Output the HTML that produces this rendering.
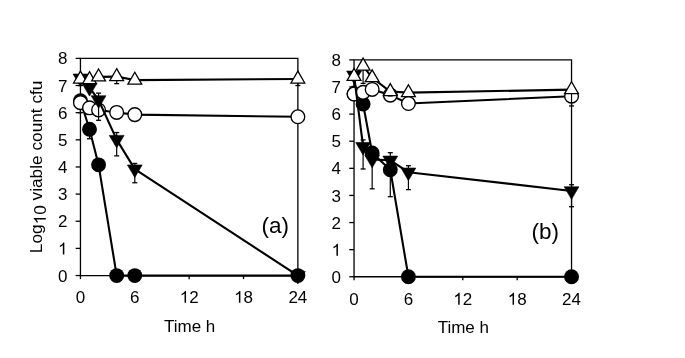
<!DOCTYPE html>
<html><head><meta charset="utf-8"><style>
html,body{margin:0;padding:0;background:#fff;}
svg{display:block;will-change:transform;}
text{font-family:"Liberation Sans", sans-serif;font-size:17px;fill:#000;}
</style></head><body>
<svg width="685" height="358" viewBox="0 0 685 358">
<rect width="685" height="358" fill="#fff"/>
<path d="M80.45 58.38 H297.87 V275.54 H80.45 Z" fill="none" stroke="#000" stroke-width="1.3"/>
<line x1="75.65" y1="275.54" x2="80.45" y2="275.54" stroke="#000" stroke-width="1.3"/>
<text x="58.00" y="281.64">0</text>
<line x1="75.65" y1="248.40" x2="80.45" y2="248.40" stroke="#000" stroke-width="1.3"/>
<path transform="translate(58.00 254.50) scale(0.008301 -0.008093)" d="M763 0L583 0L583 1147Q518 1085 412 1023Q306 961 221 930L221 1104Q372 1175 485 1276Q598 1377 645 1472L763 1472Z" fill="#000"/>
<line x1="75.65" y1="221.25" x2="80.45" y2="221.25" stroke="#000" stroke-width="1.3"/>
<text x="58.00" y="227.35">2</text>
<line x1="75.65" y1="194.11" x2="80.45" y2="194.11" stroke="#000" stroke-width="1.3"/>
<text x="58.00" y="200.21">3</text>
<line x1="75.65" y1="166.96" x2="80.45" y2="166.96" stroke="#000" stroke-width="1.3"/>
<text x="58.00" y="173.06">4</text>
<line x1="75.65" y1="139.82" x2="80.45" y2="139.82" stroke="#000" stroke-width="1.3"/>
<text x="58.00" y="145.92">5</text>
<line x1="75.65" y1="112.67" x2="80.45" y2="112.67" stroke="#000" stroke-width="1.3"/>
<text x="58.00" y="118.77">6</text>
<line x1="75.65" y1="85.53" x2="80.45" y2="85.53" stroke="#000" stroke-width="1.3"/>
<text x="58.00" y="91.63">7</text>
<line x1="75.65" y1="58.38" x2="80.45" y2="58.38" stroke="#000" stroke-width="1.3"/>
<text x="58.00" y="64.48">8</text>
<line x1="80.45" y1="275.54" x2="80.45" y2="279.14" stroke="#000" stroke-width="1.3"/>
<text x="75.72" y="302.84">0</text>
<line x1="134.80" y1="275.54" x2="134.80" y2="279.14" stroke="#000" stroke-width="1.3"/>
<text x="130.08" y="302.84">6</text>
<line x1="189.16" y1="275.54" x2="189.16" y2="279.14" stroke="#000" stroke-width="1.3"/>
<path transform="translate(179.70 302.84) scale(0.008301 -0.008093)" d="M763 0L583 0L583 1147Q518 1085 412 1023Q306 961 221 930L221 1104Q372 1175 485 1276Q598 1377 645 1472L763 1472Z" fill="#000"/><text x="189.16" y="302.84">2</text>
<line x1="243.51" y1="275.54" x2="243.51" y2="279.14" stroke="#000" stroke-width="1.3"/>
<path transform="translate(234.06 302.84) scale(0.008301 -0.008093)" d="M763 0L583 0L583 1147Q518 1085 412 1023Q306 961 221 930L221 1104Q372 1175 485 1276Q598 1377 645 1472L763 1472Z" fill="#000"/><text x="243.51" y="302.84">8</text>
<line x1="297.87" y1="275.54" x2="297.87" y2="279.14" stroke="#000" stroke-width="1.3"/>
<text x="288.41" y="302.84">2</text><text x="297.87" y="302.84">4</text>
<text x="189.66" y="331.54" text-anchor="middle">Time h</text>
<text x="261.50" y="232.50" style="font-size:22.5px">(a)</text>
<line x1="89.51" y1="126.28" x2="89.51" y2="138.76" stroke="#000" stroke-width="1.2"/>
<line x1="87.01" y1="138.76" x2="92.01" y2="138.76" stroke="#000" stroke-width="1.3"/>
<line x1="87.01" y1="126.28" x2="92.01" y2="126.28" stroke="#000" stroke-width="1.3"/>
<path d="M80.45 100.75 L89.51 129.26 L98.57 164.83 L116.69 275.60 L134.80 275.60 L297.87 275.60" fill="none" stroke="#000" stroke-width="2.1" stroke-linejoin="round"/>
<circle cx="80.45" cy="100.75" r="7.45" fill="#000"/>
<circle cx="89.51" cy="129.26" r="7.45" fill="#000"/>
<circle cx="98.57" cy="164.83" r="7.45" fill="#000"/>
<circle cx="116.69" cy="275.60" r="7.45" fill="#000"/>
<circle cx="134.80" cy="275.60" r="7.45" fill="#000"/>
<circle cx="297.87" cy="275.60" r="7.45" fill="#000"/>
<line x1="80.45" y1="99.13" x2="80.45" y2="112.70" stroke="#000" stroke-width="1.2"/>
<line x1="77.95" y1="112.70" x2="82.95" y2="112.70" stroke="#000" stroke-width="1.3"/>
<line x1="77.95" y1="99.13" x2="82.95" y2="99.13" stroke="#000" stroke-width="1.3"/>
<path d="M80.45 102.65 L89.51 107.81 L98.57 109.99 L116.69 112.43 L134.80 114.60 L297.87 116.77" fill="none" stroke="#000" stroke-width="2.1" stroke-linejoin="round"/>
<circle cx="80.45" cy="102.65" r="6.85" fill="#fff" stroke="#000" stroke-width="1.35"/>
<circle cx="89.51" cy="107.81" r="6.85" fill="#fff" stroke="#000" stroke-width="1.35"/>
<circle cx="98.57" cy="109.99" r="6.85" fill="#fff" stroke="#000" stroke-width="1.35"/>
<circle cx="116.69" cy="112.43" r="6.85" fill="#fff" stroke="#000" stroke-width="1.35"/>
<circle cx="134.80" cy="114.60" r="6.85" fill="#fff" stroke="#000" stroke-width="1.35"/>
<circle cx="297.87" cy="116.77" r="6.85" fill="#fff" stroke="#000" stroke-width="1.35"/>
<line x1="80.45" y1="74.69" x2="80.45" y2="85.55" stroke="#000" stroke-width="1.2"/>
<line x1="77.95" y1="85.55" x2="82.95" y2="85.55" stroke="#000" stroke-width="1.3"/>
<line x1="77.95" y1="74.69" x2="82.95" y2="74.69" stroke="#000" stroke-width="1.3"/>
<line x1="98.57" y1="93.15" x2="98.57" y2="120.30" stroke="#000" stroke-width="1.2"/>
<line x1="96.07" y1="120.30" x2="101.07" y2="120.30" stroke="#000" stroke-width="1.3"/>
<line x1="96.07" y1="93.15" x2="101.07" y2="93.15" stroke="#000" stroke-width="1.3"/>
<line x1="116.69" y1="132.52" x2="116.69" y2="155.87" stroke="#000" stroke-width="1.2"/>
<line x1="114.19" y1="155.87" x2="119.19" y2="155.87" stroke="#000" stroke-width="1.3"/>
<line x1="114.19" y1="132.52" x2="119.19" y2="132.52" stroke="#000" stroke-width="1.3"/>
<line x1="134.80" y1="163.47" x2="134.80" y2="182.75" stroke="#000" stroke-width="1.2"/>
<line x1="132.30" y1="182.75" x2="137.30" y2="182.75" stroke="#000" stroke-width="1.3"/>
<line x1="132.30" y1="163.47" x2="137.30" y2="163.47" stroke="#000" stroke-width="1.3"/>
<path d="M80.45 78.22 L89.51 87.72 L98.57 99.94 L116.69 139.58 L134.80 169.17 L297.87 275.60" fill="none" stroke="#000" stroke-width="2.1" stroke-linejoin="round"/>
<path d="M73.05 74.02 L87.85 74.02 L80.45 86.62 Z" fill="#000" stroke="#000" stroke-width="0.6"/>
<path d="M82.11 83.52 L96.91 83.52 L89.51 96.12 Z" fill="#000" stroke="#000" stroke-width="0.6"/>
<path d="M91.17 95.74 L105.97 95.74 L98.57 108.34 Z" fill="#000" stroke="#000" stroke-width="0.6"/>
<path d="M109.29 135.38 L124.09 135.38 L116.69 147.98 Z" fill="#000" stroke="#000" stroke-width="0.6"/>
<path d="M127.40 164.97 L142.20 164.97 L134.80 177.57 Z" fill="#000" stroke="#000" stroke-width="0.6"/>
<path d="M290.47 271.40 L305.27 271.40 L297.87 284.00 Z" fill="#000" stroke="#000" stroke-width="0.6"/>
<line x1="116.69" y1="74.69" x2="116.69" y2="83.65" stroke="#000" stroke-width="1.2"/>
<line x1="114.19" y1="83.65" x2="119.19" y2="83.65" stroke="#000" stroke-width="1.3"/>
<line x1="114.19" y1="74.69" x2="119.19" y2="74.69" stroke="#000" stroke-width="1.3"/>
<line x1="297.87" y1="77.41" x2="297.87" y2="85.55" stroke="#000" stroke-width="1.2"/>
<line x1="295.37" y1="85.55" x2="300.37" y2="85.55" stroke="#000" stroke-width="1.3"/>
<line x1="295.37" y1="77.41" x2="300.37" y2="77.41" stroke="#000" stroke-width="1.3"/>
<path d="M80.45 79.03 L89.51 79.58 L98.57 76.86 L116.69 76.59 L134.80 80.12 L297.87 79.03" fill="none" stroke="#000" stroke-width="2.1" stroke-linejoin="round"/>
<path d="M80.45 71.13 L87.35 83.03 L73.55 83.03 Z" fill="#fff" stroke="#000" stroke-width="1.3" stroke-linejoin="miter"/>
<path d="M89.51 71.68 L96.41 83.58 L82.61 83.58 Z" fill="#fff" stroke="#000" stroke-width="1.3" stroke-linejoin="miter"/>
<path d="M98.57 68.96 L105.47 80.86 L91.67 80.86 Z" fill="#fff" stroke="#000" stroke-width="1.3" stroke-linejoin="miter"/>
<path d="M116.69 68.69 L123.59 80.59 L109.79 80.59 Z" fill="#fff" stroke="#000" stroke-width="1.3" stroke-linejoin="miter"/>
<path d="M134.80 72.22 L141.70 84.12 L127.90 84.12 Z" fill="#fff" stroke="#000" stroke-width="1.3" stroke-linejoin="miter"/>
<path d="M297.87 71.13 L304.77 83.03 L290.97 83.03 Z" fill="#fff" stroke="#000" stroke-width="1.3" stroke-linejoin="miter"/>
<path d="M354.04 59.89 H571.54 V276.77 H354.04 Z" fill="none" stroke="#000" stroke-width="1.3"/>
<line x1="349.24" y1="276.77" x2="354.04" y2="276.77" stroke="#000" stroke-width="1.3"/>
<text x="331.59" y="282.87">0</text>
<line x1="349.24" y1="249.66" x2="354.04" y2="249.66" stroke="#000" stroke-width="1.3"/>
<path transform="translate(331.59 255.76) scale(0.008301 -0.008093)" d="M763 0L583 0L583 1147Q518 1085 412 1023Q306 961 221 930L221 1104Q372 1175 485 1276Q598 1377 645 1472L763 1472Z" fill="#000"/>
<line x1="349.24" y1="222.55" x2="354.04" y2="222.55" stroke="#000" stroke-width="1.3"/>
<text x="331.59" y="228.65">2</text>
<line x1="349.24" y1="195.44" x2="354.04" y2="195.44" stroke="#000" stroke-width="1.3"/>
<text x="331.59" y="201.54">3</text>
<line x1="349.24" y1="168.33" x2="354.04" y2="168.33" stroke="#000" stroke-width="1.3"/>
<text x="331.59" y="174.43">4</text>
<line x1="349.24" y1="141.22" x2="354.04" y2="141.22" stroke="#000" stroke-width="1.3"/>
<text x="331.59" y="147.32">5</text>
<line x1="349.24" y1="114.11" x2="354.04" y2="114.11" stroke="#000" stroke-width="1.3"/>
<text x="331.59" y="120.21">6</text>
<line x1="349.24" y1="87.00" x2="354.04" y2="87.00" stroke="#000" stroke-width="1.3"/>
<text x="331.59" y="93.10">7</text>
<line x1="349.24" y1="59.89" x2="354.04" y2="59.89" stroke="#000" stroke-width="1.3"/>
<text x="331.59" y="65.99">8</text>
<line x1="354.04" y1="276.77" x2="354.04" y2="280.37" stroke="#000" stroke-width="1.3"/>
<text x="349.31" y="304.67">0</text>
<line x1="408.42" y1="276.77" x2="408.42" y2="280.37" stroke="#000" stroke-width="1.3"/>
<text x="403.69" y="304.67">6</text>
<line x1="462.79" y1="276.77" x2="462.79" y2="280.37" stroke="#000" stroke-width="1.3"/>
<path transform="translate(453.34 304.67) scale(0.008301 -0.008093)" d="M763 0L583 0L583 1147Q518 1085 412 1023Q306 961 221 930L221 1104Q372 1175 485 1276Q598 1377 645 1472L763 1472Z" fill="#000"/><text x="462.79" y="304.67">2</text>
<line x1="517.16" y1="276.77" x2="517.16" y2="280.37" stroke="#000" stroke-width="1.3"/>
<path transform="translate(507.71 304.67) scale(0.008301 -0.008093)" d="M763 0L583 0L583 1147Q518 1085 412 1023Q306 961 221 930L221 1104Q372 1175 485 1276Q598 1377 645 1472L763 1472Z" fill="#000"/><text x="517.16" y="304.67">8</text>
<line x1="571.54" y1="276.77" x2="571.54" y2="280.37" stroke="#000" stroke-width="1.3"/>
<text x="562.09" y="304.67">2</text><text x="571.54" y="304.67">4</text>
<text x="463.29" y="332.77" text-anchor="middle">Time h</text>
<text x="531.50" y="238.50" style="font-size:22.5px">(b)</text>
<line x1="390.29" y1="162.73" x2="390.29" y2="196.68" stroke="#000" stroke-width="1.2"/>
<line x1="387.79" y1="196.68" x2="392.79" y2="196.68" stroke="#000" stroke-width="1.3"/>
<line x1="387.79" y1="162.73" x2="392.79" y2="162.73" stroke="#000" stroke-width="1.3"/>
<path d="M354.04 94.01 L363.10 104.06 L372.17 152.95 L390.29 169.79 L408.42 276.80 L571.54 276.80" fill="none" stroke="#000" stroke-width="2.1" stroke-linejoin="round"/>
<circle cx="354.04" cy="94.01" r="7.45" fill="#000"/>
<circle cx="363.10" cy="104.06" r="7.45" fill="#000"/>
<circle cx="372.17" cy="152.95" r="7.45" fill="#000"/>
<circle cx="390.29" cy="169.79" r="7.45" fill="#000"/>
<circle cx="408.42" cy="276.80" r="7.45" fill="#000"/>
<circle cx="571.54" cy="276.80" r="7.45" fill="#000"/>
<path d="M354.04 94.01 L363.10 92.38 L372.17 89.40 L390.29 95.10 L408.42 103.52 L571.54 96.19" fill="none" stroke="#000" stroke-width="2.1" stroke-linejoin="round"/>
<circle cx="354.04" cy="94.01" r="6.85" fill="#fff" stroke="#000" stroke-width="1.35"/>
<circle cx="363.10" cy="92.38" r="6.85" fill="#fff" stroke="#000" stroke-width="1.35"/>
<circle cx="372.17" cy="89.40" r="6.85" fill="#fff" stroke="#000" stroke-width="1.35"/>
<circle cx="390.29" cy="95.10" r="6.85" fill="#fff" stroke="#000" stroke-width="1.35"/>
<circle cx="408.42" cy="103.52" r="6.85" fill="#fff" stroke="#000" stroke-width="1.35"/>
<circle cx="571.54" cy="96.19" r="6.85" fill="#fff" stroke="#000" stroke-width="1.35"/>
<line x1="354.04" y1="73.10" x2="354.04" y2="86.41" stroke="#000" stroke-width="1.2"/>
<line x1="351.54" y1="86.41" x2="356.54" y2="86.41" stroke="#000" stroke-width="1.3"/>
<line x1="351.54" y1="73.10" x2="356.54" y2="73.10" stroke="#000" stroke-width="1.3"/>
<line x1="363.10" y1="139.91" x2="363.10" y2="168.97" stroke="#000" stroke-width="1.2"/>
<line x1="360.60" y1="168.97" x2="365.60" y2="168.97" stroke="#000" stroke-width="1.3"/>
<line x1="360.60" y1="139.91" x2="365.60" y2="139.91" stroke="#000" stroke-width="1.3"/>
<line x1="372.17" y1="154.58" x2="372.17" y2="188.80" stroke="#000" stroke-width="1.2"/>
<line x1="369.67" y1="188.80" x2="374.67" y2="188.80" stroke="#000" stroke-width="1.3"/>
<line x1="369.67" y1="154.58" x2="374.67" y2="154.58" stroke="#000" stroke-width="1.3"/>
<line x1="390.29" y1="152.68" x2="390.29" y2="168.16" stroke="#000" stroke-width="1.2"/>
<line x1="387.79" y1="168.16" x2="392.79" y2="168.16" stroke="#000" stroke-width="1.3"/>
<line x1="387.79" y1="152.68" x2="392.79" y2="152.68" stroke="#000" stroke-width="1.3"/>
<line x1="408.42" y1="165.72" x2="408.42" y2="189.62" stroke="#000" stroke-width="1.2"/>
<line x1="405.92" y1="189.62" x2="410.92" y2="189.62" stroke="#000" stroke-width="1.3"/>
<line x1="405.92" y1="165.72" x2="410.92" y2="165.72" stroke="#000" stroke-width="1.3"/>
<line x1="571.54" y1="184.73" x2="571.54" y2="206.73" stroke="#000" stroke-width="1.2"/>
<line x1="569.04" y1="206.73" x2="574.04" y2="206.73" stroke="#000" stroke-width="1.3"/>
<line x1="569.04" y1="184.73" x2="574.04" y2="184.73" stroke="#000" stroke-width="1.3"/>
<path d="M354.04 75.27 L363.10 146.70 L372.17 159.47 L390.29 160.28 L408.42 172.23 L571.54 190.97" fill="none" stroke="#000" stroke-width="2.1" stroke-linejoin="round"/>
<path d="M346.64 71.07 L361.44 71.07 L354.04 83.67 Z" fill="#000" stroke="#000" stroke-width="0.6"/>
<path d="M355.70 142.50 L370.50 142.50 L363.10 155.10 Z" fill="#000" stroke="#000" stroke-width="0.6"/>
<path d="M364.77 155.27 L379.56 155.27 L372.17 167.87 Z" fill="#000" stroke="#000" stroke-width="0.6"/>
<path d="M382.89 156.08 L397.69 156.08 L390.29 168.68 Z" fill="#000" stroke="#000" stroke-width="0.6"/>
<path d="M401.02 168.03 L415.81 168.03 L408.42 180.63 Z" fill="#000" stroke="#000" stroke-width="0.6"/>
<path d="M564.14 186.77 L578.94 186.77 L571.54 199.37 Z" fill="#000" stroke="#000" stroke-width="0.6"/>
<line x1="363.10" y1="62.24" x2="363.10" y2="83.42" stroke="#000" stroke-width="1.2"/>
<line x1="360.60" y1="83.42" x2="365.60" y2="83.42" stroke="#000" stroke-width="1.3"/>
<line x1="360.60" y1="62.24" x2="365.60" y2="62.24" stroke="#000" stroke-width="1.3"/>
<line x1="390.29" y1="91.57" x2="390.29" y2="95.91" stroke="#000" stroke-width="1.2"/>
<line x1="387.79" y1="95.91" x2="392.79" y2="95.91" stroke="#000" stroke-width="1.3"/>
<line x1="387.79" y1="91.57" x2="392.79" y2="91.57" stroke="#000" stroke-width="1.3"/>
<line x1="571.54" y1="89.67" x2="571.54" y2="105.96" stroke="#000" stroke-width="1.2"/>
<line x1="569.04" y1="105.96" x2="574.04" y2="105.96" stroke="#000" stroke-width="1.3"/>
<line x1="569.04" y1="89.67" x2="574.04" y2="89.67" stroke="#000" stroke-width="1.3"/>
<path d="M354.04 76.36 L363.10 66.04 L372.17 77.72 L390.29 91.57 L408.42 92.66 L571.54 89.67" fill="none" stroke="#000" stroke-width="2.1" stroke-linejoin="round"/>
<path d="M354.04 68.46 L360.94 80.36 L347.14 80.36 Z" fill="#fff" stroke="#000" stroke-width="1.3" stroke-linejoin="miter"/>
<path d="M363.10 58.14 L370.00 70.04 L356.20 70.04 Z" fill="#fff" stroke="#000" stroke-width="1.3" stroke-linejoin="miter"/>
<path d="M372.17 69.82 L379.06 81.72 L365.27 81.72 Z" fill="#fff" stroke="#000" stroke-width="1.3" stroke-linejoin="miter"/>
<path d="M390.29 83.67 L397.19 95.57 L383.39 95.57 Z" fill="#fff" stroke="#000" stroke-width="1.3" stroke-linejoin="miter"/>
<path d="M408.42 84.76 L415.31 96.66 L401.52 96.66 Z" fill="#fff" stroke="#000" stroke-width="1.3" stroke-linejoin="miter"/>
<path d="M571.54 81.77 L578.44 93.67 L564.64 93.67 Z" fill="#fff" stroke="#000" stroke-width="1.3" stroke-linejoin="miter"/>
<g transform="translate(41.8 253.2) rotate(-90)" style="font-size:17.25px"><text x="0" y="0" style="font-size:17.25px">Log</text><path transform="translate(28.77 4.00) scale(0.008423 -0.008212)" d="M763 0L583 0L583 1147Q518 1085 412 1023Q306 961 221 930L221 1104Q372 1175 485 1276Q598 1377 645 1472L763 1472Z" fill="#000"/><text x="38.36" y="4" style="font-size:17.25px">0</text><text x="52.75" y="0" style="font-size:17.25px">viable count cfu</text></g>
</svg>
</body></html>
